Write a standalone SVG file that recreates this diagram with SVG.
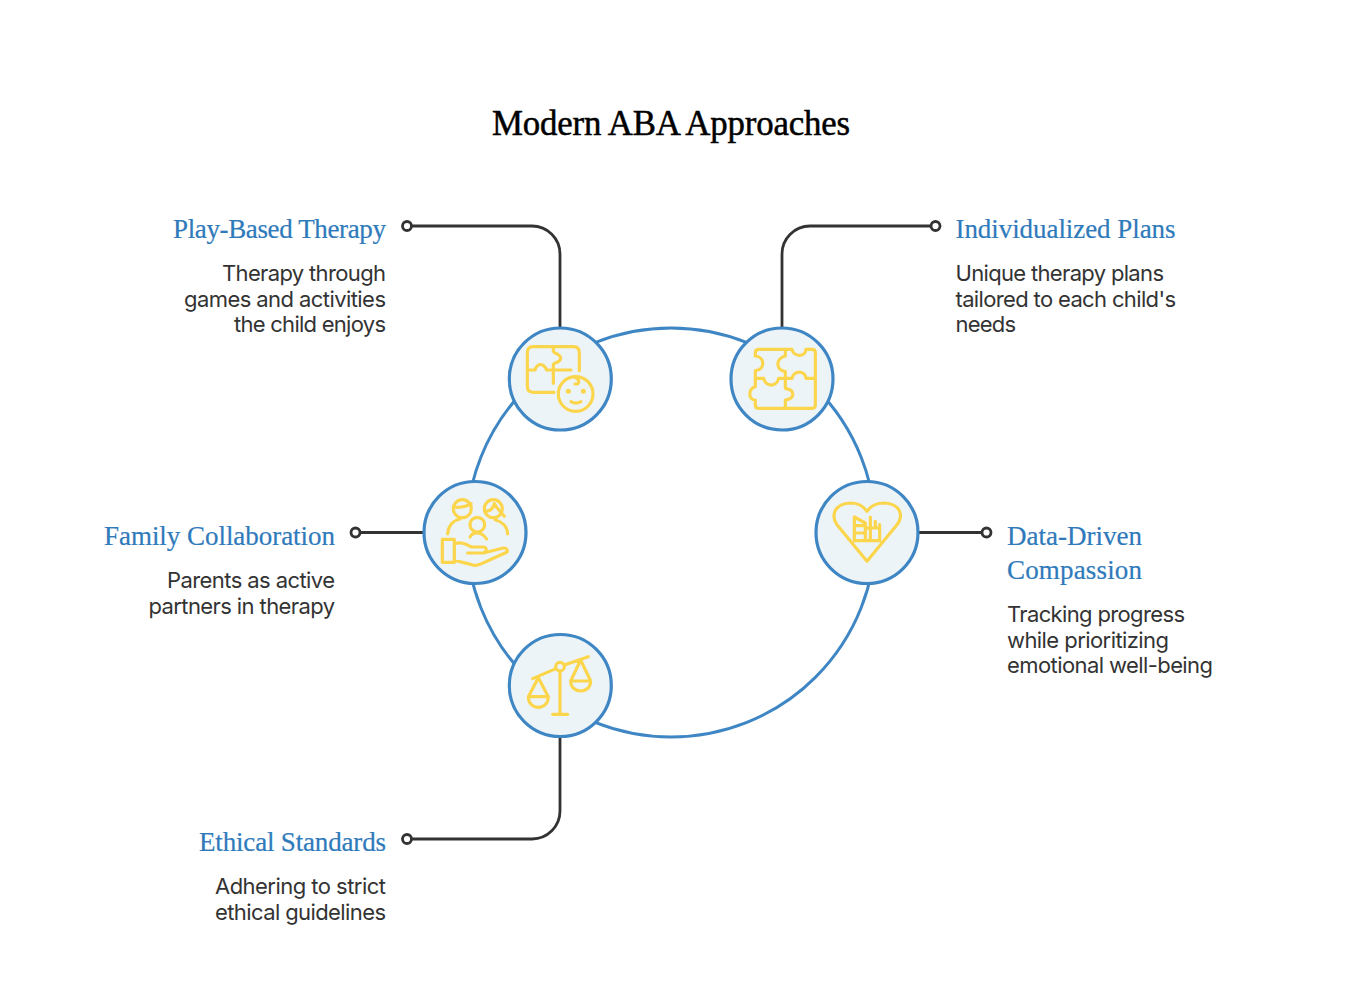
<svg xmlns="http://www.w3.org/2000/svg" width="1360" height="988" viewBox="0 0 1360 988">
<style>
.title{font:34.800px "Liberation Serif",serif;fill:#000;stroke:#000;stroke-width:.5}
.h{font:27px "Liberation Serif",serif;fill:#2f7abb;stroke:#2f7abb;stroke-width:.2}
.b{font:22px "Inter",sans-serif;fill:#333}
.c{fill:none;stroke:#333;stroke-width:2.8}
.d{fill:#fff;stroke:#333;stroke-width:2.8}
.n{fill:#edf4f8;stroke:#3f86c4;stroke-width:3.200}
.i{fill:none;stroke:#fbd54b;stroke-width:9.500;stroke-linecap:round;stroke-linejoin:round}
</style>
<rect width="1360" height="988" fill="#fff"/>
<text class="title" x="492" y="135" textLength="358" lengthAdjust="spacing">Modern ABA Approaches</text>
<circle cx="671" cy="532.500" r="204.500" fill="none" stroke="#3f86c4" stroke-width="3"/>
<g id="connectors">
<path class="c" d="M412 226H532A28 28 0 0 1 560 254V328"/>
<path class="c" d="M930 226H810A28 28 0 0 0 782 254V328"/>
<path class="c" d="M360 532.500H424"/>
<path class="c" d="M918 532.500H981"/>
<path class="c" d="M412 839H532A28 28 0 0 0 560 811V737"/>
<circle class="d" cx="407" cy="226" r="4.500"/>
<circle class="d" cx="935.500" cy="226" r="4.500"/>
<circle class="d" cx="355.500" cy="532.500" r="4.500"/>
<circle class="d" cx="986.500" cy="532.500" r="4.500"/>
<circle class="d" cx="407" cy="839" r="4.500"/>
</g>
<g id="play-based">
<circle class="n" cx="560.300" cy="379" r="51"/>
<g transform="translate(500 320) scale(.3333)"><path class="i" d="M162 217H100Q82 217 82 199V98Q82 80 100 80H220Q238 80 238 98V152M160 80V92C160 102 182 100 182 115C182 130 160 125 160 135V190M82 150H105C112 128 130 128 140 150H213"/><circle class="i" cx="227" cy="222" r="52"/><path class="i" d="M213 245Q228 254 243 245M225 172C240 178 240 195 225 192"/><circle cx="205" cy="214" r="7.500" fill="#fbd54b"/><circle cx="250" cy="214" r="7.500" fill="#fbd54b"/></g>
<text class="h" x="173" y="238" textLength="213" lengthAdjust="spacing">Play-Based Therapy</text>
<text class="b" x="222" y="281" textLength="164" lengthAdjust="spacing">Therapy through</text>
<text class="b" x="184" y="307" textLength="202" lengthAdjust="spacing">games and activities</text>
<text class="b" x="234" y="332" textLength="152" lengthAdjust="spacing">the child enjoys</text>
</g>
<g id="individualized">
<circle class="n" cx="782" cy="379" r="51"/>
<g transform="translate(722 320) scale(.3333)"><path class="i" d="M100 98Q100 88 110 88H190M210 88C215 112 250 112 252 88H270Q280 88 280 98V255Q280 265 270 265H110Q100 265 100 255V240C78 240 78 205 100 200V175H125C130 202 165 202 170 175H190M100 98V108C130 110 130 150 100 152V175M190 88H210M190 88V108C160 115 160 150 190 155V175H210C215 150 250 150 252 175H280M190 175V205C220 210 220 235 190 240V265"/></g>
<text class="h" x="955.500" y="238" textLength="220" lengthAdjust="spacing">Individualized Plans</text>
<text class="b" x="955.500" y="281" textLength="208.500" lengthAdjust="spacing">Unique therapy plans</text>
<text class="b" x="955.500" y="307" textLength="220.500" lengthAdjust="spacing">tailored to each child's</text>
<text class="b" x="955.500" y="332" textLength="60.500" lengthAdjust="spacing">needs</text>
</g>
<g id="family">
<circle class="n" cx="475" cy="532.500" r="51"/>
<g transform="translate(415 473) scale(.3333)"><circle class="i" cx="142" cy="107" r="27"/><path class="i" d="M117 102Q145 106 168 92M98 183C100 158 115 142 135 138"/><circle class="i" cx="235" cy="107" r="27"/><path class="i" d="M210 115C225 115 235 105 238 92C245 105 255 115 268 130M240 140C260 145 277 160 278 183"/><circle class="i" cx="187" cy="155" r="22"/><path class="i" d="M165 192C175 175 200 175 215 198M82 199H118V268H82ZM118 212C140 205 155 215 170 222H205C215 222 218 235 205 240H158M205 240L265 225C280 225 280 238 270 240L200 272Q185 280 170 275L118 262"/></g>
<text class="h" x="104" y="545" textLength="231" lengthAdjust="spacing">Family Collaboration</text>
<text class="b" x="167" y="588" textLength="168" lengthAdjust="spacing">Parents as active</text>
<text class="b" x="148.500" y="614" textLength="186.500" lengthAdjust="spacing">partners in therapy</text>
</g>
<g id="data-driven">
<circle class="n" cx="867" cy="532.500" r="51"/>
<g transform="translate(807 473) scale(.3333)"><path class="i" d="M180 265L90 155C72 130 80 92 130 90C150 90 170 100 180 115C190 100 210 90 232 90C282 92 290 130 270 155ZM142 132V203H218V165H180M142 132L175 150V203M142 158H175M142 180H170M190 132V165M205 145V165M218 155V165M190 165V203"/></g>
<text class="h" x="1007" y="545" textLength="135" lengthAdjust="spacing">Data-Driven</text>
<text class="h" x="1007" y="579" textLength="135" lengthAdjust="spacing">Compassion</text>
<text class="b" x="1007" y="622" textLength="178" lengthAdjust="spacing">Tracking progress</text>
<text class="b" x="1007" y="648" textLength="162" lengthAdjust="spacing">while prioritizing</text>
<text class="b" x="1007" y="673" textLength="206" lengthAdjust="spacing">emotional well-being</text>
</g>
<g id="ethical">
<circle class="n" cx="560.300" cy="685.500" r="51"/>
<g transform="translate(500 626) scale(.3333)"><path class="i" d="M98 158L168 128M193 117L265 92M180 135V265M158 265H203M115 155L85 212M115 155L145 212M85 212H145C145 255 85 255 85 212ZM242 102L212 165M242 102L272 165M212 165H272C272 205 212 205 212 165Z"/><circle class="i" cx="180" cy="122" r="13"/></g>
<text class="h" x="199" y="851" textLength="187" lengthAdjust="spacing">Ethical Standards</text>
<text class="b" x="215" y="894" textLength="171" lengthAdjust="spacing">Adhering to strict</text>
<text class="b" x="215" y="920" textLength="171" lengthAdjust="spacing">ethical guidelines</text>
</g>
</svg>
